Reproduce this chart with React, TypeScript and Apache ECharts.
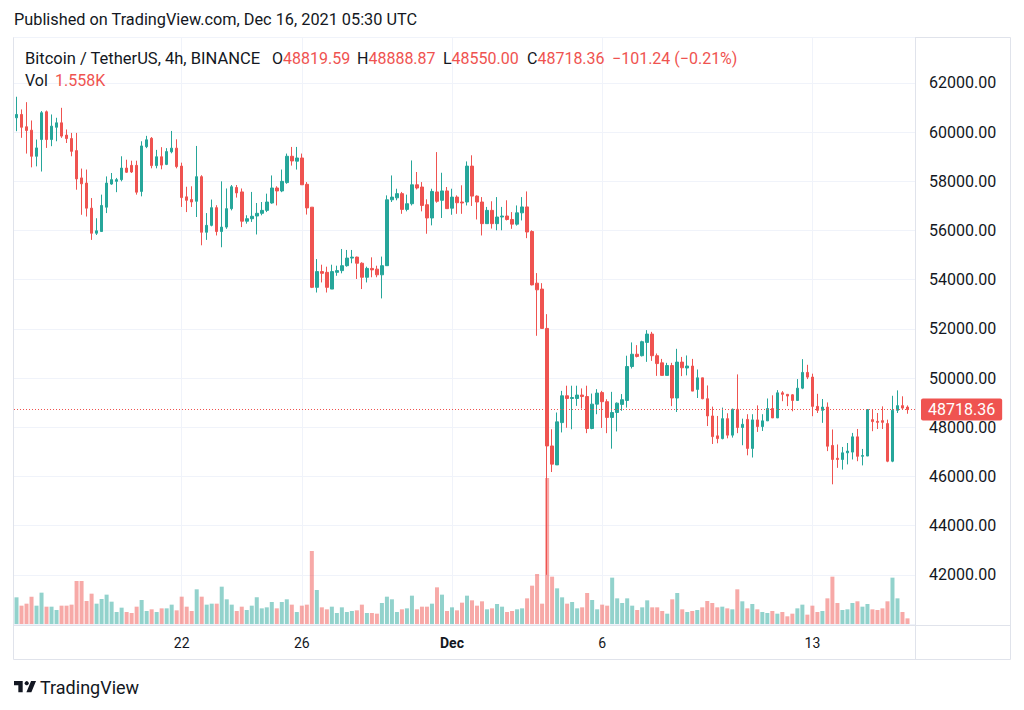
import React, { useEffect, useRef } from "react";
import * as echarts from "echarts";

// 4h candles, first candle Nov 16 2021 12:00 UTC, last Dec 16 04:00 UTC
const startTimeUTC = Date.UTC(2021, 10, 16, 12, 0);

const opens = [
  60585, 60720, 60220, 60080, 59020, 59700, 60830, 59700, 60200, 60380,
  59880, 59740, 59250, 58140, 57930, 56910, 55890, 55960, 56950, 57890,
  58000, 58070, 58540, 58650, 58650, 57590, 59410, 59750, 58640, 59000,
  58690, 59200, 59350, 58620, 57370, 57260, 57190, 58190, 55930, 56210,
  56930, 55960, 56140, 56890, 57750, 57570, 56380, 56480, 56590, 56700,
  56820, 57120, 57730, 57610, 57950, 59020, 58820, 58950, 57880, 56950,
  53690, 54330, 54300, 53620, 54300, 54370, 54570, 54880, 54920, 54670,
  54100, 54460, 54430, 54200, 54570, 57250, 57330, 57500, 56860, 57090,
  57860, 57770, 57050, 56510, 57570, 57230, 57610, 56910, 57360, 57160,
  57160, 58620, 57400, 57160, 56280, 56820, 56280, 56550, 56590, 56450,
  56260, 56720, 56960, 55960, 53860, 53620, 52020, 47240, 46470, 48190,
  49280, 49170, 49170, 49310, 49250, 47950, 48940, 49410, 49040, 48400,
  48600, 48930, 49090, 50470, 50970, 50910, 51450, 51790, 50910, 50620,
  50110, 50510, 49190, 50650, 50410, 50490, 49540, 50010, 49160, 48460,
  47650, 47540, 48350, 47680, 48730, 47990, 48320, 47140, 48300, 48030,
  48260, 48760, 48380, 49400, 49340, 49320, 49090, 49590, 50230, 50040,
  48850, 48690, 48820, 47260, 46740, 46690, 46960, 46990, 47610, 46820,
  46830, 48310, 48240, 48270, 48150, 46620, 48690, 48880, 48819.59,
];
const highs = [
  61440, 60925, 61220, 60475, 59700, 60860, 60880, 60720, 60585, 60990,
  60110, 59970, 59970, 58520, 58480, 57320, 56500, 57460, 58200, 58340,
  58140, 59020, 58880, 58840, 58840, 59630, 59850, 59800, 59280, 59390,
  59350, 60050, 59710, 58760, 57780, 57800, 59440, 58250, 56710, 57260,
  57030, 58000, 57710, 57850, 57850, 57710, 56620, 57570, 57120, 57160,
  57500, 58240, 57800, 58480, 59130, 59400, 59400, 59130, 57970, 56950,
  54840, 54610, 54530, 54610, 54570, 55250, 55210, 55210, 54940, 54710,
  54530, 54910, 54570, 54940, 57430, 58240, 57700, 57570, 57460, 58850,
  58380, 57970, 57270, 57700, 59190, 58350, 57770, 57700, 57430, 57840,
  58810, 59060, 57430, 57360, 56960, 57190, 57360, 56960, 57230, 56750,
  57020, 57360, 57590, 56010, 54270, 53860, 52600, 47920, 48600, 49480,
  49690, 49690, 49690, 49580, 49690, 49370, 49550, 49480, 49140, 49440,
  49010, 49350, 50910, 51450, 51340, 51520, 51950, 51880, 51000, 50780,
  50620, 50620, 51190, 50860, 50920, 50780, 50350, 50010, 49700, 48840,
  48460, 48800, 48570, 48760, 50150, 48350, 48530, 48530, 48890, 48530,
  49170, 49300, 49510, 49470, 49340, 49350, 49960, 50770, 50540, 50180,
  49360, 49150, 49010, 47910, 47300, 47200, 47360, 47770, 47930, 47120,
  48720, 48720, 48580, 48850, 48310, 49280, 49500, 49260, 48888.87,
];
const lows = [
  60040, 59770, 59130, 58570, 58610, 58400, 59360, 59430, 59630, 59770,
  59560, 59020, 57660, 56640, 56570, 55620, 55820, 55960, 56710, 57860,
  57560, 58000, 58340, 58340, 57460, 57390, 59350, 58530, 58530, 58490,
  58660, 59140, 58530, 56960, 56750, 56960, 56550, 55400, 55620, 56170,
  55800, 55320, 56070, 56820, 57340, 56140, 56280, 56350, 55840, 56620,
  56750, 57090, 57020, 57560, 57900, 58640, 58480, 57860, 56650, 53660,
  53480, 53890, 53480, 53620, 54160, 54260, 54530, 54670, 54030, 53620,
  53890, 54100, 54100, 53240, 54570, 57160, 57230, 56680, 56780, 57020,
  57670, 56780, 55870, 56210, 57130, 56510, 56890, 56640, 56680, 56680,
  57020, 57000, 56450, 55800, 56280, 56080, 56010, 56010, 56410, 56070,
  56200, 56410, 55690, 53770, 51720, 52020, 42000, 46180, 46470, 47790,
  47980, 47920, 48870, 48760, 47760, 47920, 48530, 47970, 47760, 47130,
  47830, 48670, 48800, 50390, 50840, 50880, 50660, 50700, 50090, 50110,
  50110, 48860, 48620, 50080, 50110, 49470, 49190, 49140, 48050, 47320,
  47350, 47510, 47550, 47580, 47760, 47270, 46860, 46770, 47810, 47850,
  48260, 48380, 48380, 49060, 48860, 48650, 49090, 49550, 49960, 48450,
  48580, 48180, 47030, 45680, 46350, 46280, 46490, 46690, 46620, 46450,
  46830, 47840, 47930, 47930, 46580, 46580, 48580, 48740, 48550,
];
const closes = [
  60720, 60200, 60070, 59020, 59360, 60790, 59700, 60245, 60380, 59840,
  59740, 59220, 58100, 57900, 56910, 55890, 55990, 57020, 57930, 58070,
  58070, 58540, 58370, 58380, 57560, 59440, 59690, 58640, 59000, 58660,
  59210, 59350, 58600, 57340, 57230, 57160, 58190, 55930, 56210, 56930,
  55960, 56140, 56890, 57780, 57530, 56380, 56480, 56580, 56700, 56820,
  57160, 57730, 57610, 58000, 59020, 58830, 58950, 57860, 56920, 53690,
  54330, 54260, 53690, 54330, 54370, 54570, 54880, 54920, 54670, 54100,
  54460, 54400, 54200, 54570, 57250, 57360, 57500, 56860, 57090, 57860,
  57730, 57020, 56510, 57590, 57190, 57610, 56890, 57360, 57130, 57120,
  58620, 57400, 57160, 56280, 56820, 56280, 56550, 56590, 56450, 56260,
  56720, 56960, 55940, 53790, 53590, 52020, 47240, 46500, 48220, 49280,
  49170, 49210, 49310, 49250, 47950, 48940, 49390, 49040, 48400, 48600,
  48980, 49120, 50470, 50970, 50880, 51480, 51790, 50910, 50590, 50110,
  50510, 49190, 50650, 50420, 50490, 49470, 50010, 49160, 48460, 47620,
  47540, 48350, 47680, 48730, 47990, 48120, 47140, 48300, 48030, 48260,
  48760, 48380, 49400, 49340, 49270, 49090, 49590, 50230, 50040, 48850,
  48690, 48820, 47230, 46690, 46690, 46960, 47030, 47610, 46820, 46850,
  48720, 48230, 48200, 48200, 46620, 48690, 48880, 48780, 48718.36,
];
// volume in thousands of BTC
const volumesK = [
  7.36, 5.06, 5.61, 7.54, 5.06, 8.65, 4.78, 4.78, 3.86, 5.06,
  5.06, 5.34, 11.87, 11.87, 6.35, 8.37, 5.61, 6.9, 8.1, 6.16,
  3.31, 4.51, 3.31, 3.04, 4.78, 6.62, 3.59, 4.05, 3.31, 4.32,
  4.32, 5.34, 3.77, 7.54, 4.78, 3.59, 9.57, 7.54, 5.34, 5.61,
  5.61, 10.3, 6.81, 5.34, 3.59, 4.78, 3.86, 5.06, 7.36, 4.32,
  4.6, 6.07, 4.32, 6.07, 6.81, 5.34, 3.31, 5.06, 5.34, 20.15,
  9.38, 4.6, 4.05, 4.78, 3.04, 4.6, 3.31, 3.59, 3.77, 5.34,
  3.04, 3.04, 2.85, 5.8, 7.54, 6.81, 3.31, 4.05, 4.32, 7.82,
  4.05, 4.78, 4.78, 5.61, 10.12, 8.1, 3.59, 4.6, 3.77, 5.89,
  7.82, 6.53, 5.06, 6.26, 4.05, 4.32, 5.52, 4.78, 3.31, 3.59,
  4.05, 4.32, 7.08, 10.58, 13.8, 5.61, 40.3, 13.06, 9.84, 7.36,
  5.61, 6.07, 4.32, 4.6, 8.56, 6.62, 4.05, 5.34, 5.06, 12.79,
  7.08, 5.8, 7.08, 5.06, 3.86, 4.6, 6.53, 4.6, 4.6, 3.59,
  2.85, 6.81, 8.56, 4.05, 3.31, 3.59, 3.86, 4.6, 6.35, 5.8,
  4.6, 4.78, 4.32, 4.05, 9.57, 6.26, 4.32, 5.52, 4.05, 3.31,
  3.04, 3.59, 2.85, 3.31, 2.12, 2.85, 4.32, 5.34, 2.58, 5.06,
  3.31, 3.59, 7.08, 13.06, 5.8, 3.86, 4.05, 5.8, 6.26, 4.78,
  5.52, 4.05, 3.86, 4.32, 6.26, 12.79, 7.08, 3.31, 1.558,
];

const xTickCats = [
  "2021-11-22 00:00",
  "2021-11-26 00:00",
  "2021-12-01 00:00",
  "2021-12-06 00:00",
  "2021-12-13 00:00",
];
const xTickLabels = ["22", "26", "Dec", "6", "13"];
const yTickValues = [42000, 44000, 46000, 48000, 50000, 52000, 54000, 56000, 58000, 60000, 62000];

const titleText = "Published on TradingView.com, Dec 16, 2021 05:30 UTC";
const symbolText = "Bitcoin / TetherUS, 4h, BINANCE";
const changeText = "\u2212101.24 (\u22120.21%)";
const volumeText = "1.558K";

const UP = "#26a69a";
const DOWN = "#ef5350";
const TEXT = "#131722";
const FONT = "Roboto, 'Noto Sans', sans-serif";

const pad = (n: number) => String(n).padStart(2, "0");
const categories: string[] = [];
for (let i = 0; i < opens.length + 1; i++) {
  const d = new Date(startTimeUTC + i * 4 * 3600 * 1000);
  categories.push(
    `${d.getUTCFullYear()}-${pad(d.getUTCMonth() + 1)}-${pad(d.getUTCDate())} ${pad(d.getUTCHours())}:00`
  );
}

echarts.graphic.registerShape(
  "tvlogo",
  echarts.graphic.extendPath("M14 22H7V11H0V4h14v18Z M28 22h-8l7.5-18h8L28 22Z", {}) as any
);

export default function App() {
  const ref = useRef<HTMLDivElement>(null);

  useEffect(() => {
    if (!ref.current) return;
    const chart = echarts.init(ref.current, undefined, { renderer: "svg" });
    const n = opens.length;
    const last = n - 1;
    const lastPrice = closes[last];

    const candleData = opens.map((o, i) => [o, closes[i], lows[i], highs[i]]);
    const volData = volumesK.map((v, i) => ({
      value: v,
      itemStyle: {
        color: closes[i] >= opens[i] ? "rgba(38,166,154,0.5)" : "rgba(239,83,80,0.5)",
      },
    }));

    const isTick = (_idx: number, value: string) => xTickCats.indexOf(value) >= 0;

    const ohlcGroups = [
      { x: 272, k: "O", v: opens[last].toFixed(2) },
      { x: 357, k: "H", v: highs[last].toFixed(2) },
      { x: 443, k: "L", v: lows[last].toFixed(2) },
      { x: 527, k: "C", v: closes[last].toFixed(2) },
    ];
    const HF = `16px ${FONT}`;

    const graphics: any[] = [
      {
        type: "rect",
        z: -1,
        shape: { x: 13.5, y: 37.5, width: 997, height: 622 },
        style: { fill: "none", stroke: "#e0e3eb", lineWidth: 1 },
        silent: true,
      },
      {
        type: "line",
        z: -1,
        shape: { x1: 915.5, y1: 37, x2: 915.5, y2: 660 },
        style: { stroke: "#e0e3eb", lineWidth: 1 },
        silent: true,
      },
      {
        type: "line",
        z: -1,
        shape: { x1: 13, y1: 625.5, x2: 1011, y2: 625.5 },
        style: { stroke: "#e0e3eb", lineWidth: 1 },
        silent: true,
      },
      {
        type: "group",
        z: 100,
        children: [
          {
            type: "text",
            z: 100,
            x: 14,
            y: 19,
            style: { text: titleText, fill: TEXT, font: `16.3px ${FONT}`, verticalAlign: "middle" },
          },
          {
            type: "text",
            z: 100,
            x: 25,
            y: 58,
            style: { text: symbolText, fill: TEXT, font: `16.5px ${FONT}`, verticalAlign: "middle" },
          },
          ...ohlcGroups.map((g) => ({
            type: "text",
            z: 100,
            x: g.x,
            y: 58,
            style: {
              text: `{k|${g.k}}{v|${g.v}}`,
              font: HF,
              verticalAlign: "middle",
              rich: {
                k: { fill: TEXT, font: HF },
                v: { fill: DOWN, font: HF },
              },
            },
          })),
          {
            type: "text",
            z: 100,
            x: 612,
            y: 58,
            style: { text: changeText, fill: DOWN, font: HF, verticalAlign: "middle" },
          },
          {
            type: "text",
            z: 100,
            x: 25,
            y: 80,
            style: { text: "Vol", fill: TEXT, font: HF, verticalAlign: "middle" },
          },
          {
            type: "text",
            z: 100,
            x: 55,
            y: 80,
            style: { text: volumeText, fill: DOWN, font: HF, verticalAlign: "middle" },
          },
          {
            type: "tvlogo",
            z: 100,
            x: 14,
            y: 678.5,
            scaleX: 0.62,
            scaleY: 0.62,
            style: { fill: TEXT },
          },
          {
            type: "circle",
            z: 100,
            shape: { cx: 14 + 20.5 * 0.62, cy: 678.5 + 7.5 * 0.62, r: 3.3 * 0.62 },
            style: { fill: TEXT },
          },
          {
            type: "text",
            z: 100,
            x: 40,
            y: 687,
            style: { text: "TradingView", fill: TEXT, font: `18px ${FONT}`, verticalAlign: "middle" },
          },
        ],
      },
    ];

    chart.setOption({
      animation: false,
      backgroundColor: "#ffffff",
      grid: [
        { left: 14, right: 109, top: 37, bottom: 86 },
        { left: 14, right: 109, bottom: 86, height: 200 },
      ],
      xAxis: [
        {
          type: "category",
          gridIndex: 0,
          data: categories,
          boundaryGap: true,
          axisLine: { show: false },
          axisTick: { show: false },
          axisLabel: { show: false },
          splitLine: {
            show: true,
            interval: isTick,
            alignWithLabel: true,
            lineStyle: { color: "#f0f3fa", width: 1 },
          },
        },
        {
          type: "category",
          gridIndex: 1,
          data: categories,
          boundaryGap: true,
          axisLine: { show: false },
          axisTick: { show: false },
          splitLine: { show: false },
          axisLabel: {
            show: true,
            interval: isTick,
            margin: 12,
            color: TEXT,
            fontSize: 14,
            fontFamily: FONT,
            formatter: (value: string) => {
              const k = xTickCats.indexOf(value);
              if (k < 0) return "";
              const lab = xTickLabels[k];
              return isNaN(Number(lab)) ? `{m|${lab}}` : lab;
            },
            rich: { m: { fontWeight: "bold", fontSize: 14, fontFamily: FONT, color: TEXT } },
          },
        },
      ],
      yAxis: [
        {
          type: "value",
          gridIndex: 0,
          position: "right",
          min: 40000,
          max: 63870,
          interval: 2000,
          axisLine: { show: false },
          axisTick: { show: false },
          splitLine: {
            show: true,
            lineStyle: { color: "#f0f3fa", width: 1 },
          },
          axisLabel: {
            show: true,
            margin: 14,
            color: TEXT,
            fontSize: 16,
            fontFamily: FONT,
            formatter: (v: number) => (yTickValues.indexOf(v) >= 0 ? v.toFixed(2) : ""),
          },
        },
        {
          type: "value",
          gridIndex: 1,
          min: 0,
          max: 55.2,
          show: false,
          splitLine: { show: false },
        },
      ],
      series: [
        {
          type: "bar",
          name: "Vol",
          xAxisIndex: 1,
          yAxisIndex: 1,
          data: volData,
          barWidth: 4,
          z: 1,
          silent: true,
        },
        {
          type: "candlestick",
          name: "BTCUSDT",
          xAxisIndex: 0,
          yAxisIndex: 0,
          data: candleData,
          barWidth: 3,
          z: 3,
          itemStyle: {
            color: UP,
            color0: DOWN,
            borderColor: UP,
            borderColor0: DOWN,
            borderWidth: 1,
          },
          markLine: {
            silent: true,
            symbol: ["none", "none"],
            data: [{ yAxis: lastPrice }],
            lineStyle: { color: DOWN, type: [1, 2], width: 1 },
            label: {
              show: true,
              position: "end",
              distance: 6,
              formatter: lastPrice.toFixed(2),
              color: "#ffffff",
              backgroundColor: DOWN,
              padding: [3, 7, 3, 7],
              borderRadius: 2,
              fontSize: 16,
              fontFamily: FONT,
            },
          },
        },
      ],
      graphic: graphics,
    });

    return () => chart.dispose();
  }, []);

  return (
    <div
      ref={ref}
      style={{ position: "fixed", left: 0, top: 0, width: 1024, height: 710, background: "#fff" }}
    />
  );
}
